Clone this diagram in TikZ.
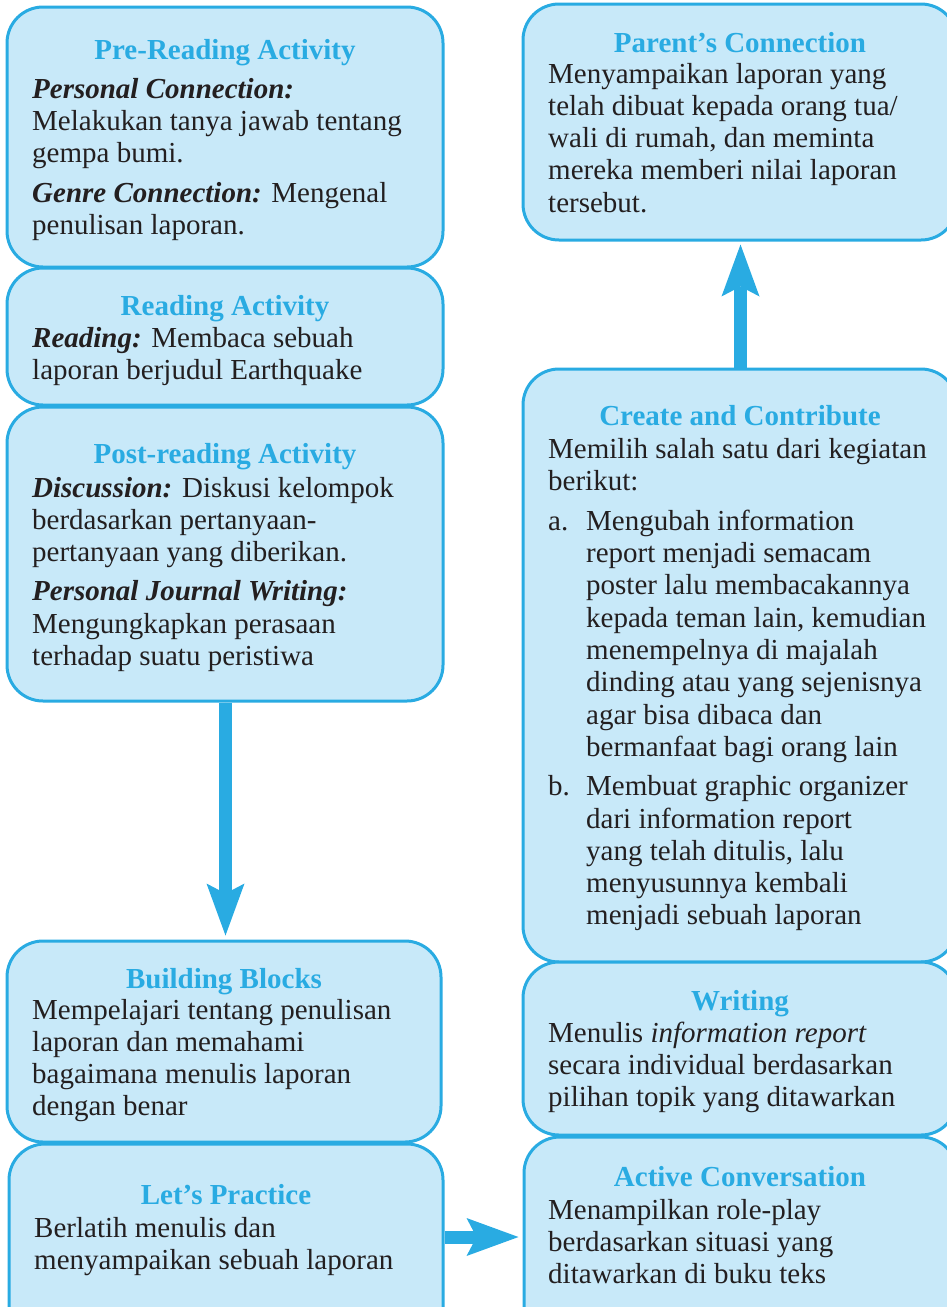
\documentclass[tikz,border=0pt]{standalone}
\usepackage{fontspec}
\setmainfont{Liberation Serif}
\usetikzlibrary{arrows.meta}
\definecolor{cyanline}{HTML}{29ABE2}
\definecolor{boxfill}{HTML}{C8E9F9}
\definecolor{inktext}{HTML}{231F20}
\newcommand{\bodytext}[1]{\parbox[t]{405pt}{\raggedright #1}}
\newcommand{\lab}[1]{\textbf{\textit{#1}}}
\newcommand{\itemlab}[1]{\makebox[38pt][l]{#1}}
\newcommand{\itemind}{\hspace*{38pt}}
\begin{document}
\begin{tikzpicture}[x=1pt,y=-1pt,
  box/.style={draw=cyanline, fill=boxfill, line width=3pt, rounded corners=36pt, inner sep=0pt},
  ttl/.style={anchor=base, inner sep=0pt, text=cyanline, font=\bfseries\fontsize{29}{32.3}\selectfont},
  body/.style={anchor=base west, inner sep=0pt, text=inktext, font=\fontsize{29}{32.3}\selectfont},
  bigarrow/.style={draw=cyanline, fill=cyanline, line width=13pt,
    -{Stealth[length=52pt, width=38pt, inset=10pt, line width=0pt]}}]
\useasboundingbox (0,0) rectangle (947,1307);

% left column boxes
\node[box, minimum width=436pt, minimum height=260pt] (pre) at (225,137) {};
\node[box, minimum width=436pt, minimum height=137pt] (read) at (225,336.5) {};
\node[box, minimum width=436pt, minimum height=294pt] (post) at (225,554) {};
\node[box, minimum width=434pt, minimum height=201pt] (build) at (224,1041.5) {};
\node[box, minimum width=434pt, minimum height=201pt] (prac) at (226,1244.5) {};
% right column boxes
\node[box, minimum width=434pt, minimum height=236pt] (par) at (740,122) {};
\node[box, minimum width=434pt, minimum height=593pt] (cre) at (740,665.5) {};
\node[box, minimum width=434pt, minimum height=173pt] (wri) at (740,1048.5) {};
\node[box, minimum width=433pt, minimum height=208pt] (act) at (740.5,1241) {};

% texts
\node[ttl] (preT) at (225,59) {Pre-Reading Activity};
\node[body] (preB) at (32,98) {\bodytext{\lab{Personal Connection:}\\
Melakukan tanya jawab tentang\\
gempa bumi.\\[7.7pt]
\lab{Genre Connection:} Mengenal\\
penulisan laporan.}};

\node[ttl] (readT) at (225,315) {Reading Activity};
\node[body] (readB) at (32,347) {\bodytext{\lab{Reading:} Membaca sebuah\\
laporan berjudul Earthquake}};

\node[ttl] (postT) at (225,463) {Post-reading Activity};
\node[body] (postB) at (32,497) {\bodytext{\lab{Discussion:} Diskusi kelompok\\
berdasarkan pertanyaan-\\
pertanyaan yang diberikan.\\[7pt]
\lab{Personal Journal Writing:}\\
Mengungkapkan perasaan\\
terhadap suatu peristiwa}};

\node[ttl] (buildT) at (224,988) {Building Blocks};
\node[body] (buildB) at (32,1019) {\bodytext{Mempelajari tentang penulisan\\
laporan dan memahami\\
bagaimana menulis laporan\\
dengan benar}};

\node[ttl] (pracT) at (226,1204) {Let’s Practice};
\node[body] (pracB) at (34,1237) {\bodytext{Berlatih menulis dan\\
menyampaikan sebuah laporan}};

\node[ttl] (parT) at (740,52) {Parent’s Connection};
\node[body] (parB) at (548,83) {\bodytext{Menyampaikan laporan yang\\
telah dibuat kepada orang tua/\\
wali di rumah, dan meminta\\
mereka memberi nilai laporan\\
tersebut.}};

\node[ttl] (creT) at (740,425) {Create and Contribute};
\node[body] (creB) at (548,458) {\bodytext{Memilih salah satu dari kegiatan\\
berikut:\\[7.7pt]
\itemlab{a.}Mengubah information\\
\itemind report menjadi semacam\\
\itemind poster lalu membacakannya\\
\itemind kepada teman lain, kemudian\\
\itemind menempelnya di majalah\\
\itemind dinding atau yang sejenisnya\\
\itemind agar bisa dibaca dan\\
\itemind bermanfaat bagi orang lain\\[7pt]
\itemlab{b.}Membuat graphic organizer\\
\itemind dari information report\\
\itemind yang telah ditulis, lalu\\
\itemind menyusunnya kembali\\
\itemind menjadi sebuah laporan}};

\node[ttl] (wriT) at (740,1010) {Writing};
\node[body] (wriB) at (548,1042) {\bodytext{Menulis \textit{information report}\\
secara individual berdasarkan\\
pilihan topik yang ditawarkan}};

\node[ttl] (actT) at (740,1186) {Active Conversation};
\node[body] (actB) at (548,1219) {\bodytext{Menampilkan role-play\\
berdasarkan situasi yang\\
ditawarkan di buku teks}};

% arrows
\coordinate (downx) at (225.5,0);
\coordinate (upx) at (740.5,0);
\coordinate (horzy) at (0,1237);
\draw[bigarrow, shorten >=4pt] (post.south -| downx) -- (build.north -| downx);
\draw[bigarrow, shorten >=3pt] (cre.north -| upx) -- (par.south -| upx);
\draw[bigarrow, shorten >=4pt] (prac.east |- horzy) -- (act.west |- horzy);
\end{tikzpicture}
\end{document}
